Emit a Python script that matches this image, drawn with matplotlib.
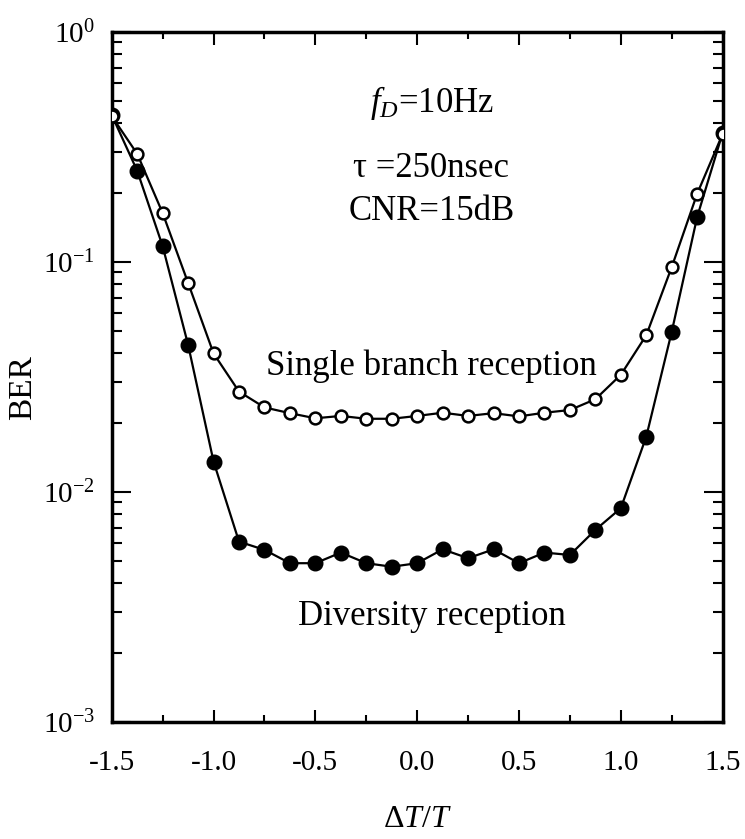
import numpy as np
import matplotlib
matplotlib.use('Agg')
import matplotlib.pyplot as plt
from matplotlib.ticker import LogLocator, MultipleLocator, FixedLocator, NullFormatter, FuncFormatter

plt.rcParams['font.family'] = ['Liberation Serif', 'DejaVu Serif']
plt.rcParams['mathtext.fontset'] = 'custom'
plt.rcParams['mathtext.rm'] = 'Liberation Serif'
plt.rcParams['mathtext.it'] = 'Liberation Serif:italic'
plt.rcParams['axes.unicode_minus'] = False

# timing offset dT/T
dt = [-1.5, -1.375, -1.25, -1.125, -1.0, -0.875, -0.75, -0.625, -0.5, -0.375, -0.25, -0.125,
      0.0, 0.125, 0.25, 0.375, 0.5, 0.625, 0.75, 0.875, 1.0, 1.125, 1.25, 1.375, 1.5]

# BER, single branch (open circles)
ber_single = [0.43, 0.295, 0.163, 0.081, 0.040, 0.0273, 0.0233, 0.0220, 0.0209, 0.0214, 0.0208, 0.0208,
              0.0214, 0.0221, 0.0214, 0.0220, 0.0213, 0.0221, 0.0227, 0.0253, 0.0323, 0.048, 0.095, 0.198, 0.36]

# BER, diversity (filled circles)
ber_div = [0.435, 0.249, 0.117, 0.0436, 0.01355, 0.00608, 0.0056, 0.0049, 0.0049, 0.00545, 0.0049, 0.00473,
           0.0049, 0.00563, 0.00515, 0.00563, 0.0049, 0.00545, 0.00532, 0.00684, 0.0085, 0.0174, 0.0497, 0.157, 0.364]

x_ticks = [-1.5, -1.0, -0.5, 0.0, 0.5, 1.0, 1.5]
x_labels = ['-1.5', '-1.0', '-0.5', '0.0', '0.5', '1.0', '1.5']

fig = plt.figure(figsize=(7.45, 8.39), dpi=100)
ax = fig.add_axes([0.150, 0.1395, 0.820, 0.8225])

ax.plot(dt, ber_div, '-o', color='black', lw=1.6, ms=10.5, mfc='black', mec='black', zorder=3)
ax.plot(dt, ber_single, '-o', color='black', lw=1.6, ms=8.5, mfc='white', mec='black', mew=1.8, zorder=4)

ax.set_yscale('log')
ax.set_xlim(-1.5, 1.5)
ax.set_ylim(1e-3, 1)

ax.xaxis.set_major_locator(FixedLocator(x_ticks))
ax.xaxis.set_minor_locator(MultipleLocator(0.25))
ax.set_xticklabels(x_labels)
ax.yaxis.set_major_locator(LogLocator(base=10, numticks=10))
ax.yaxis.set_minor_locator(LogLocator(base=10, subs=np.arange(2, 10), numticks=10))
ax.yaxis.set_minor_formatter(NullFormatter())
ax.yaxis.set_major_formatter(FuncFormatter(lambda v, p: r'$\mathregular{10^{%d}}$' % round(np.log10(v))))

ax.tick_params(which='both', direction='in', top=True, right=True, width=1.5)
ax.tick_params(axis='x', which='major', length=9, pad=20, labelsize=21)
ax.tick_params(axis='x', which='minor', length=5)
ax.tick_params(axis='y', which='major', length=14, pad=12, labelsize=21)
ax.tick_params(axis='y', which='minor', length=7)
for s in ax.spines.values():
    s.set_linewidth(2.5)

ax.set_xlabel(r'$\Delta T/T$', fontsize=23, va='center')
ax.xaxis.set_label_coords(0.501, -0.142)
ax.set_ylabel('BER', fontsize=24, va='center')
ax.yaxis.set_label_coords(-0.145, 0.484)

ax.text(0.07, 0.449, r'$f_D$=10Hz', fontsize=25, ha='center', va='baseline')
ax.text(0.07, 0.234, 'τ =250nsec', fontsize=25, ha='center', va='baseline')
ax.text(0.07, 0.152, 'CNR=15dB', fontsize=25, ha='center', va='baseline')
ax.text(0.07, 0.0323, 'Single branch reception', fontsize=25, ha='center', va='baseline')
ax.text(0.07, 0.00264, 'Diversity reception', fontsize=25, ha='center', va='baseline')

fig.savefig('out.png', dpi=100)
